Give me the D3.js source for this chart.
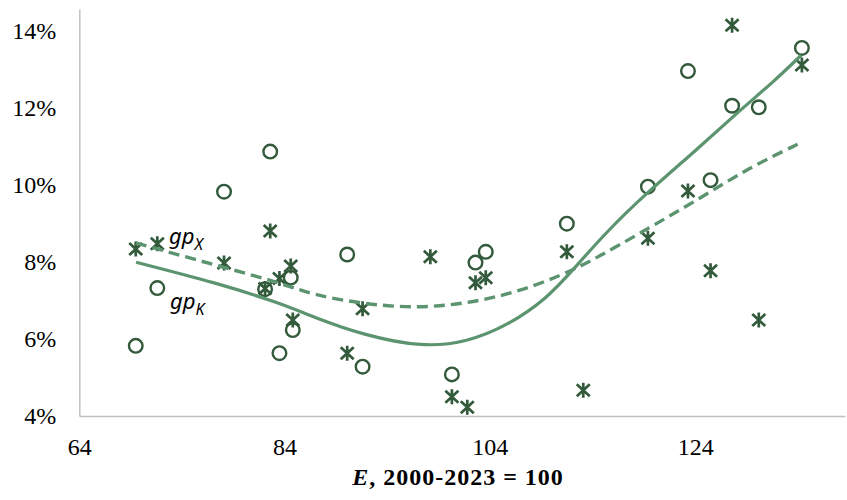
<!DOCTYPE html>
<html>
<head>
<meta charset="utf-8">
<script src="https://cdn.jsdelivr.net/npm/d3@7"></script>
<style>
  html, body { margin: 0; padding: 0; background: #ffffff; }
  svg { display: block; }
</style>
</head>
<body>
<svg id="chart" width="847" height="500"></svg>
<script>
// ---- data ----
const E = [69.5, 71.6, 78.1, 82.1, 82.6, 83.5, 84.6, 84.8, 90.1, 91.6, 98.2, 100.3, 101.8, 102.6, 103.6, 111.5, 113.1, 119.4, 123.3, 125.5, 127.6, 130.2, 134.4];
// gp_K (circles), in %; null where no marker is visible
const gpK = [5.82, 7.32, 9.82, 7.29, 10.86, 5.63, 7.59, 6.23, 8.19, 5.28, null, 5.08, null, 7.98, 8.26, 8.99, null, 9.95, 12.95, 10.12, 12.05, 12.01, 13.55];
// gp_X (asterisks), in %
const gpX = [8.33, 8.47, 7.97, 7.31, 8.80, 7.57, 7.89, 6.49, 5.63, 6.78, 8.13, 4.50, 4.23, 7.46, 7.59, 8.26, 4.67, 8.61, 9.84, 7.77, 14.14, 6.49, 13.11];

// trend lines
const trendK_E = [69.53, 77.42, 83.56, 86.78, 91.65, 97.5, 101.79, 105.69, 109.58, 112.12, 115.43, 119.33, 124.2, 128.39, 131.6, 134.33];
const trendK_v = [7.99, 7.45, 6.93, 6.57, 6.10, 5.78, 5.92, 6.34, 7.05, 7.80, 8.80, 9.80, 10.92, 11.94, 12.66, 13.36];
const trendX_E = [69.53, 74.5, 78.98, 83.27, 86.78, 91.65, 96.53, 101.4, 106.27, 111.14, 114.75, 118.65, 124.2, 129.36, 134.23];
const trendX_v = [8.49, 8.12, 7.79, 7.48, 7.14, 6.91, 6.80, 6.90, 7.18, 7.66, 8.15, 8.75, 9.6, 10.46, 11.08];

const xTicks = [64, 84, 104, 124];
const yTicks = [4, 6, 8, 10, 12, 14];

// ---- drawing ----
const svg = d3.select("#chart");
const x = d3.scaleLinear().domain([64, 138.6]).range([79.3, 845]);
const y = d3.scaleLinear().domain([4, 14.56]).range([416, 9]);

const markColor = "#325a3b";
const lineColor = "#5c9470";
const axisColor = "#c0c0c0";
const serif = "'Liberation Serif', 'Times New Roman', serif";

// axes
const xAxis = d3.axisBottom(x).tickValues(xTicks).tickSize(0).tickPadding(0).tickFormat(d3.format("d"));
const gx = svg.append("g").attr("transform", `translate(0,${y(4)})`).call(xAxis);
gx.select(".domain").attr("stroke", axisColor).attr("stroke-width", 1.5);
gx.selectAll("text").attr("font-family", serif).attr("font-size", 24).attr("fill", "#000")
  .attr("dy", null).attr("y", 39);

const yAxis = d3.axisLeft(y).tickValues(yTicks).tickSize(0).tickPadding(23).tickFormat(d => d + "%");
const gy = svg.append("g").attr("transform", `translate(${x(64)},0)`).call(yAxis);
gy.select(".domain").attr("stroke", axisColor).attr("stroke-width", 1.5);
gy.selectAll("text").attr("font-family", serif).attr("font-size", 24).attr("fill", "#000")
  .attr("dy", "0.33em");

// axis title
const title = svg.append("text").attr("x", 458).attr("y", 485).attr("text-anchor", "middle")
  .attr("font-family", serif).attr("font-size", 24).attr("font-weight", "bold").attr("fill", "#000")
  .attr("letter-spacing", 1);
title.append("tspan").attr("font-style", "italic").text("E");
title.append("tspan").text(", 2000-2023 = 100");

// markers
const ptsK = E.map((e, i) => ({ e, v: gpK[i] })).filter(d => d.v !== null);
const ptsX = E.map((e, i) => ({ e, v: gpX[i] })).filter(d => d.v !== null);

svg.append("g").selectAll("circle").data(ptsK).join("circle")
  .attr("cx", d => x(d.e)).attr("cy", d => y(d.v)).attr("r", 6.8)
  .attr("fill", "none").attr("stroke", markColor).attr("stroke-width", 2.4);

svg.append("g").selectAll("path").data(ptsX).join("path")
  .attr("d", d => {
    const cx = x(d.e), cy = y(d.v);
    return `M${cx - 6.5},${cy - 6}L${cx + 6.5},${cy + 6}M${cx + 6.5},${cy - 6}L${cx - 6.5},${cy + 6}M${cx},${cy - 7.5}L${cx},${cy + 7.5}`;
  })
  .attr("fill", "none").attr("stroke", markColor).attr("stroke-width", 2.7);

// trend lines
const line = d3.line().x(d => x(d[0])).y(d => y(d[1])).curve(d3.curveBasis);
svg.append("path").datum(trendX_E.map((e, i) => [e, trendX_v[i]]))
  .attr("d", line).attr("fill", "none").attr("stroke", lineColor).attr("stroke-width", 3.4)
  .attr("stroke-dasharray", "11,6");
svg.append("path").datum(trendK_E.map((e, i) => [e, trendK_v[i]]))
  .attr("d", line).attr("fill", "none").attr("stroke", lineColor).attr("stroke-width", 3.2);

// series labels
const sans = "'Noto Sans', 'Open Sans', sans-serif";
function seriesLabel(px, py, sub) {
  const t = svg.append("text").attr("x", px).attr("y", py)
    .attr("font-family", sans).attr("font-style", "italic").attr("font-size", 22).attr("fill", "#000");
  t.append("tspan").text("gp");
  t.append("tspan").attr("font-size", 16).attr("dy", 6).text(sub);
}
seriesLabel(169, 244, "X");
seriesLabel(170, 309, "K");
</script>
</body>
</html>
